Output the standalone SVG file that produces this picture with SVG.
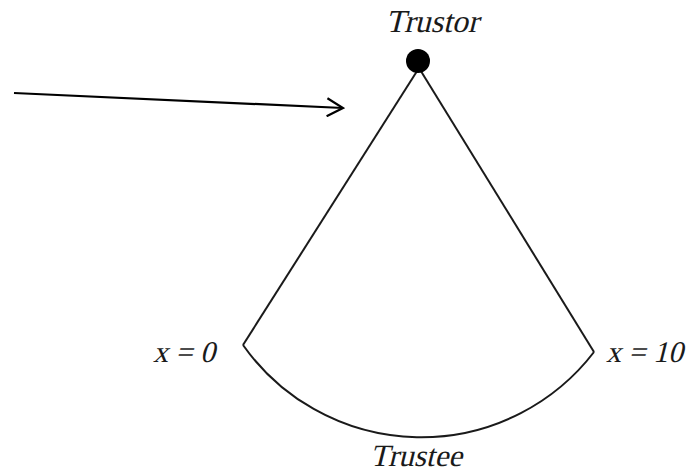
<svg xmlns="http://www.w3.org/2000/svg" width="688" height="474" viewBox="0 0 688 474">
<style>
.lbl{font-family:"Liberation Serif","Times New Roman",serif;font-style:normal;fill:#1a1a1a;}
.ln{fill:none;stroke:#1a1a1a;stroke-width:2;}
</style>
<defs>
<marker id="arr" viewBox="0 0 20 20" refX="18" refY="10" markerWidth="20" markerHeight="20" markerUnits="userSpaceOnUse" orient="auto">
<path d="M2,1 L18,10 L2,19" fill="none" stroke="#000" stroke-width="2.2"/>
</marker>
</defs>
<rect width="688" height="474" fill="#fff"/>
<g id="connectors">
<path class="ln" d="M419,68 L243,345"/>
<path class="ln" d="M419,68 L594,352"/>
<path class="ln" d="M243,345 A218,218 0 0 0 594,352"/>
<path d="M14,93 L343,108" fill="none" stroke="#000" stroke-width="2.2" marker-end="url(#arr)"/>
</g>
<g id="trustor">
<circle cx="418" cy="61" r="12" fill="#000"/>
<text class="lbl" transform="translate(432,32) skewX(-14)" font-size="32" text-anchor="middle">Trustor</text>
</g>
<g id="trustee">
<text class="lbl" transform="translate(416,466) skewX(-14)" font-size="31" text-anchor="middle">Trustee</text>
</g>
<g id="x0">
<text class="lbl" transform="translate(153,362) skewX(-14)" font-size="30">x = 0</text>
</g>
<g id="x10">
<text class="lbl" transform="translate(606,362) skewX(-14)" font-size="30">x = 10</text>
</g>
</svg>
